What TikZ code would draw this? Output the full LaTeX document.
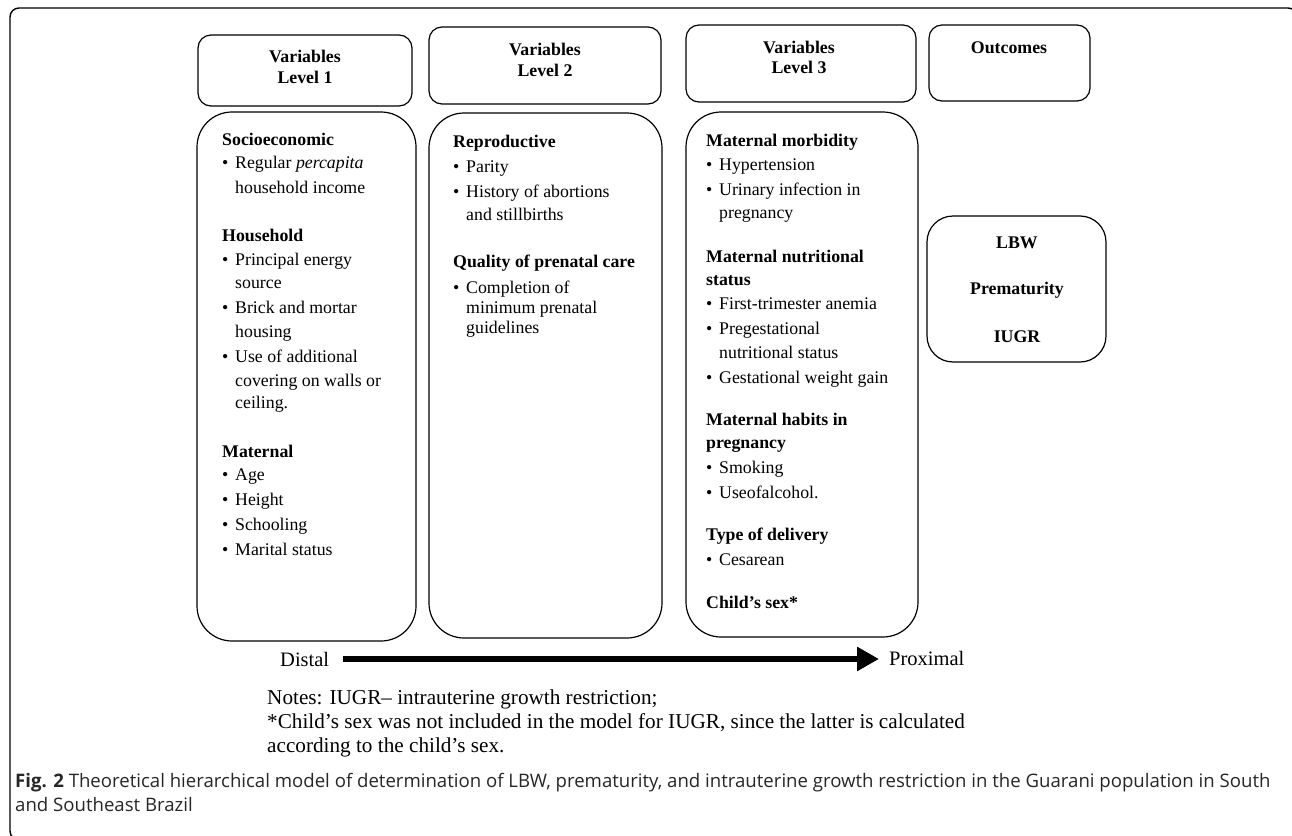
\documentclass[tikz,border=0pt]{standalone}
\usepackage{fontspec}
\setmainfont{Liberation Serif}
\newfontfamily\capfont{Open Sans}
\usetikzlibrary{arrows.meta}
\newcommand\bul{\makebox[13pt][l]{\textbullet}}
\newcommand\Ln[5][txt]{\node[#1] (#2) at (#3,#4) {#5};}
\begin{document}
\begin{tikzpicture}[x=1pt,y=-1pt,
  txt/.style={anchor=base west, inner sep=0pt, font=\fontsize{17.8}{21}\selectfont},
  hd/.style={anchor=base west, inner sep=0pt, font=\fontsize{17.8}{21}\selectfont\bfseries},
  ctr/.style={anchor=base, inner sep=0pt, font=\fontsize{17.8}{21}\selectfont\bfseries},
  notetxt/.style={anchor=base west, inner sep=0pt, font=\fontsize{21.2}{24}\selectfont},
  capt/.style={anchor=base west, inner sep=0pt, text=black!85, font=\capfont\fontsize{18.6}{22}\selectfont},
  hbox/.style={draw, line width=1.2pt, rounded corners=13pt, inner sep=0pt},
  cbox/.style={draw, line width=1.2pt, rounded corners=35pt, inner sep=0pt},
  obox/.style={draw, line width=1.2pt, rounded corners=26pt, inner sep=0pt},
]
\useasboundingbox (0,0) rectangle (1292,835);
\draw[line width=1.4pt, rounded corners=9pt] (10,8) rectangle (1297,840);

% header boxes
\node[hbox, minimum width=214pt, minimum height=71pt] (h1) at (305,70.5) {};
\node[hbox, minimum width=232pt, minimum height=77pt] (h2) at (545,65.5) {};
\node[hbox, minimum width=230pt, minimum height=77pt] (h3) at (801,63.5) {};
\node[hbox, minimum width=161pt, minimum height=76pt] (h4) at (1009.5,63) {};
% content boxes
\node[cbox, minimum width=219pt, minimum height=529pt] (c1) at (306.5,376.5) {};
\node[cbox, minimum width=233pt, minimum height=525pt] (c2) at (545.5,375.5) {};
\node[cbox, minimum width=232pt, minimum height=525pt] (c3) at (802,374.5) {};
\node[obox, minimum width=179pt, minimum height=146pt] (ob) at (1016.5,289) {};

% header texts
\Ln[ctr]{h1a}{305}{62}{Variables}
\Ln[ctr]{h1b}{305}{83}{Level 1}
\Ln[ctr]{h2a}{545}{55}{Variables}
\Ln[ctr]{h2b}{545}{76}{Level 2}
\Ln[ctr]{h3a}{799}{53}{Variables}
\Ln[ctr]{h3b}{799}{73}{Level 3}
\Ln[ctr]{h4a}{1009}{53}{Outcomes}

% level 1
\Ln[hd]{a1}{222}{145}{Socioeconomic}
\Ln{a2}{222}{168}{\bul Regular \textit{percapita}}
\Ln{a3}{235}{193}{household income}
\Ln[hd]{a4}{222}{241}{Household}
\Ln{a5}{222}{265}{\bul Principal energy}
\Ln{a6}{235}{288}{source}
\Ln{a7}{222}{313}{\bul Brick and mortar}
\Ln{a8}{235}{337}{housing}
\Ln{a9}{222}{362}{\bul Use of additional}
\Ln{a10}{235}{386}{covering on walls or}
\Ln{a11}{235}{408}{ceiling.}
\Ln[hd]{a12}{222}{457}{Maternal}
\Ln{a13}{222}{480}{\bul Age}
\Ln{a14}{222}{505}{\bul Height}
\Ln{a15}{222}{530}{\bul Schooling}
\Ln{a16}{222}{555}{\bul Marital status}

% level 2
\Ln[hd]{b1}{453}{147}{Reproductive}
\Ln{b2}{453}{172}{\bul Parity}
\Ln{b3}{453}{197}{\bul History of abortions}
\Ln{b4}{466}{220}{and stillbirths}
\Ln[hd]{b5}{453}{267}{Quality of prenatal care}
\Ln{b6}{453}{293}{\bul Completion of}
\Ln{b7}{466}{313}{minimum prenatal}
\Ln{b8}{466}{333}{guidelines}

% level 3
\Ln[hd]{d1}{706}{146}{Maternal morbidity}
\Ln{d2}{706}{170}{\bul Hypertension}
\Ln{d3}{706}{195}{\bul Urinary infection in}
\Ln{d4}{719}{218}{pregnancy}
\Ln[hd]{d5}{706}{262}{Maternal nutritional}
\Ln[hd]{d6}{706}{285}{status}
\Ln{d7}{706}{309}{\bul First-trimester anemia}
\Ln{d8}{706}{334}{\bul Pregestational}
\Ln{d9}{719}{358}{nutritional status}
\Ln{d10}{706}{383}{\bul Gestational weight gain}
\Ln[hd]{d11}{706}{425}{Maternal habits in}
\Ln[hd]{d12}{706}{448}{pregnancy}
\Ln{d13}{706}{473}{\bul Smoking}
\Ln{d14}{706}{498}{\bul Useofalcohol.}
\Ln[hd]{d15}{706}{540}{Type of delivery}
\Ln{d16}{706}{565}{\bul Cesarean}
\Ln[hd]{d17}{706}{608}{Child’s sex*}

% outcomes
\Ln[ctr]{o1}{1017}{248}{LBW}
\Ln[ctr]{o2}{1017}{294}{Prematurity}
\Ln[ctr]{o3}{1017}{342}{IUGR}

% distal -> proximal
\node[anchor=base west, inner sep=0pt, font=\fontsize{20.5}{24}\selectfont] (distal) at (280,666) {Distal};
\node[anchor=base west, inner sep=0pt, font=\fontsize{20.5}{24}\selectfont] (prox) at (889,665) {Proximal};
\draw[line width=6pt, -{Triangle[length=22pt,width=23pt]}]
  ([xshift=14pt]distal.east) -- ([xshift=-10pt]distal.east -| prox.west);

% notes
\Ln[notetxt]{n1}{267}{704}{Notes: IUGR– intrauterine growth restriction;}
\Ln[notetxt]{n2}{267}{728}{*Child’s sex was not included in the model for IUGR, since the latter is calculated}
\Ln[notetxt]{n3}{267}{752}{according to the child’s sex.}

% caption
\Ln[capt]{f1}{15}{787}{\textbf{Fig. 2} Theoretical hierarchical model of determination of LBW, prematurity, and intrauterine growth restriction in the Guarani population in South}
\Ln[capt]{f2}{15}{811}{and Southeast Brazil}
\end{tikzpicture}
\end{document}
